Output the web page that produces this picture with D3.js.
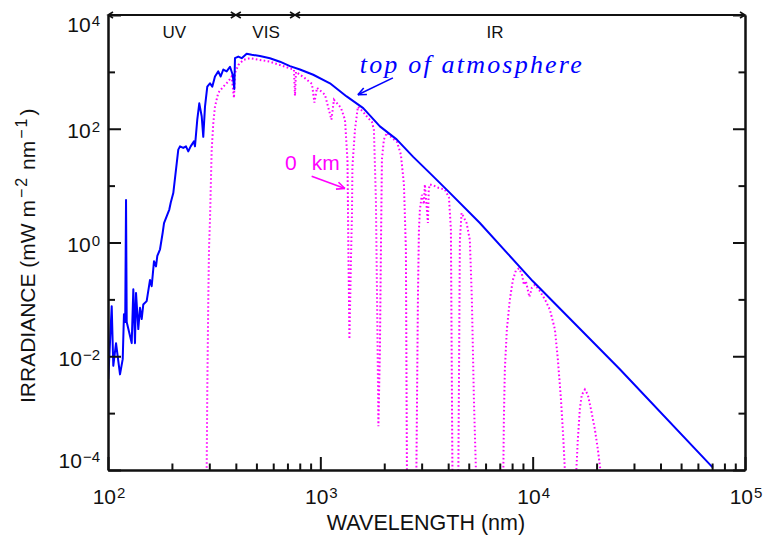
<!DOCTYPE html>
<html><head><meta charset="utf-8">
<script src="https://cdn.jsdelivr.net/npm/d3@7"></script>
<style>
html,body{margin:0;padding:0;background:#fff;}
svg{display:block;font-family:"Liberation Sans",Arial,Helvetica,sans-serif;}
</style></head><body>
<svg id="chart" width="767" height="538"></svg>
<script>
// ---- data (wavelength in nm, irradiance in mW m-2 nm-1) ----
const toaWavelength = [100.3,104.1,105.9,109.1,113.9,117.3,118.9,120.5,121.6,122.5,126.9,129.3,131.6,134.0,135.5,138.9,141.5,144.1,146.6,152.1,157.7,160.6,164.7,168.3,170.7,175.8,181.0,183.6,189.1,194.4,197.4,203.0,214.3,218.3,226.2,232.9,238.8,245.1,254.0,256.8,263.3,269.1,276.2,281.0,286.3,293.5,302.2,309.8,319.0,330.6,339.4,349.1,362.2,375.4,386.5,393.4,396.3,410.8,426.2,449.8,474.9,519.5,579.0,645.3,719.3,801.7,926,1110,1330,1592,1908,2287,2738,3281,3933,5641,10000,25740,70550];
const toaIrradiance = [0.0040,0.076,0.0068,0.017,0.0048,0.0089,0.055,0.040,5.6,0.040,0.023,0.017,0.15,0.017,0.13,0.030,0.071,0.045,0.081,0.093,0.22,0.17,0.47,0.38,0.58,0.76,1.5,2.2,2.9,3.8,5.0,7.4,43,49,46,49,40,49,60,49,145,280,166,72,245,550,630,550,830,1020,830,1100,1020,1230,890,500,1740,1860,1740,2090,2000,1900,1740,1510,1260,1100,890,630,370,230,110,65,32,16.6,8.5,2.2,0.21,0.0059,0.00011];

const surfaceWavelength = [285,291.6,293.5,296.7,299,302.2,303.8,307.8,313.2,319,330.6,349.1,368.6,382.3,392,396.3,410.8,433.5,466.1,519.5,579,645.3,719.3,751,759.5,767.6,846,913,938,964,1051,1128,1159,1250,1306,1342,1356,1371,1394,1409,1416,1455,1503,1588,1675,1750,1788,1827,1857,1877,1908,1929,1950,1993,2059,2174,2295,2396,2475,2529,2557,2641,2834,2881,2913,2944,3008,3074,3108,3150,3211,3240,3281,3425,3618,3861,4033,4120,4188,4302,4469,4543,4627,4744,4884,5061,5172,5286,5404,6281,7278,7318,7397,7560,7810,8070,8334,8610,8897,9092,9290,9650,9913,10240,10810,11420,12050,12720,13140,13580,13950,14180,14970,16060,16320,16680,17040,17620,18190,18790,19630,20280,20840,23000];
const surfaceIrradiance = [1e-6,1e-4,0.0026,0.1,0.76,2.5,5.6,43,126,245,427,550,676,830,347,955,1320,1620,1740,1620,1510,1320,1150,1100,380,1000,776,617,288,525,398,145,324,234,145,29,0.76,0.020,0.5,3.1,21,95,245,200,155,132,95,5.6,0.030,0.00059,0.013,0.76,29,65,85,69,59,35,10.5,0.76,0.000105,1e-6,1e-4,0.1,1.7,3.8,6.9,4.7,10.5,5.6,2.2,8.5,10.5,10,9.1,8.5,6.2,1.7,1e-4,1e-6,1e-4,1.1,3.3,2.75,2.2,1.1,0.1,0.0018,1e-4,1e-6,1e-4,0.00078,0.0059,0.030,0.1,0.22,0.32,0.35,0.28,0.18,0.21,0.11,0.16,0.18,0.14,0.1,0.066,0.030,0.0089,0.0018,0.00035,1e-4,1e-6,1e-4,0.00035,0.0012,0.0021,0.0026,0.0021,0.0012,0.00052,0.00023,1e-4,1e-6];

const seriesNames = ["top of atmosphere", "0 km"];
const xTickExponents = [2, 3, 4, 5];
const yTickExponents = [-4, -2, 0, 2, 4];
const yMinorExponents = [-3, -1, 1, 3];
const regionNames = ["UV", "VIS", "IR"];
const regionEdges = [100, 400, 760, 100000];
const regionLabelWavelength = [205, 555, 6640];
// annotation anchors in data space [wavelength, irradiance]
const toaLabelAt = [1533, 960];
const toaArrowFrom = [2197, 785], toaArrowTo = [1503, 395];
const surfLabelAt = [[681, 19.1], [910, 19.1]];
const surfArrowFrom = [910, 14.6], surfArrowTo = [1306, 8.9];

// ---- chart ----
const svg = d3.select("#chart");
const x = d3.scaleLog().domain([1e2, 1e5]).range([108, 745]);
const y = d3.scaleLog().domain([1e-4, 1e4]).range([470, 15]);
const ink = "#111";
const blue = "#0000ff", magenta = "#ff00ff";

svg.append("clipPath").attr("id", "plotClip").append("rect")
  .attr("x", x.range()[0]).attr("y", y.range()[1])
  .attr("width", x.range()[1] - x.range()[0]).attr("height", y.range()[0] - y.range()[1]);

const line = d3.line().x(d => x(d[0])).y(d => y(d[1]));
const surf = surfaceWavelength.map((w, i) => [w, surfaceIrradiance[i]]);
const toa = toaWavelength.map((w, i) => [w, toaIrradiance[i]]);

const plot = svg.append("g").attr("clip-path", "url(#plotClip)");
plot.append("path").datum(surf).attr("d", line)
  .attr("fill", "none").attr("stroke", magenta).attr("stroke-width", 2)
  .attr("stroke-dasharray", "1.6 2.4");
plot.append("path").datum(toa).attr("d", line)
  .attr("fill", "none").attr("stroke", blue).attr("stroke-width", 2)
  .attr("stroke-linejoin", "round");

// axes
function styleAxis(g) {
  g.select(".domain").attr("stroke", ink).attr("stroke-width", 2);
  g.selectAll(".tick line").attr("stroke", ink).attr("stroke-width", 2);
  g.selectAll(".tick text").remove();
}
const xMajor = xTickExponents.map(e => Math.pow(10, e));
const xMinor = [];
for (let e = 2; e < 5; e++) for (let m = 2; m <= 9; m++) xMinor.push(m * Math.pow(10, e));
const yMajor = yTickExponents.map(e => Math.pow(10, e));
const yMinor = yMinorExponents.map(e => Math.pow(10, e));

svg.append("g").attr("transform", `translate(0,${y.range()[0]})`)
  .call(d3.axisBottom(x).tickValues(xMinor).tickSize(-6.5).tickSizeOuter(0).tickFormat(() => "")).call(styleAxis);
svg.append("g").attr("transform", `translate(0,${y.range()[0]})`)
  .call(d3.axisBottom(x).tickValues(xMajor).tickSize(-13).tickSizeOuter(0).tickFormat(() => "")).call(styleAxis);
svg.append("g").attr("transform", `translate(${x.range()[0]},0)`)
  .call(d3.axisLeft(y).tickValues(yMinor).tickSize(-7).tickSizeOuter(0).tickFormat(() => "")).call(styleAxis);
svg.append("g").attr("transform", `translate(${x.range()[0]},0)`)
  .call(d3.axisLeft(y).tickValues(yMajor).tickSize(-13).tickSizeOuter(0).tickFormat(() => "")).call(styleAxis);
svg.append("g").attr("transform", `translate(${x.range()[1]},0)`)
  .call(d3.axisRight(y).tickValues(yMinor).tickSize(-6.5).tickSizeOuter(0).tickFormat(() => "")).call(styleAxis);
svg.append("g").attr("transform", `translate(${x.range()[1]},0)`)
  .call(d3.axisRight(y).tickValues(yMajor).tickSize(-12).tickSizeOuter(0).tickFormat(() => "")).call(styleAxis);

// tick labels
const supText = e => (e < 0 ? "\u2212" + (-e) : String(e));
yTickExponents.forEach(e => {
  const yy = y(Math.pow(10, e));
  const base = Math.min(Math.max(yy + 9.5, 31.5), 468);
  const t = svg.append("text").attr("x", 100).attr("y", base)
    .attr("text-anchor", "end").attr("font-size", 21).attr("fill", ink);
  t.append("tspan").text("10");
  t.append("tspan").attr("font-size", 15).attr("dy", -6).attr("dx", 1).text(supText(e));
});
xTickExponents.forEach(e => {
  const t = svg.append("text").attr("x", x(Math.pow(10, e)) + 1).attr("y", 504)
    .attr("text-anchor", "middle").attr("font-size", 21).attr("fill", ink);
  t.append("tspan").text("10");
  t.append("tspan").attr("font-size", 15).attr("dy", -6).attr("dx", 1).text(supText(e));
});

// axis titles
svg.append("text").attr("x", 426).attr("y", 530).attr("text-anchor", "middle")
  .attr("font-size", 21.5).attr("fill", ink).text("WAVELENGTH (nm)");
const yt = svg.append("text").attr("transform", "translate(35,403) rotate(-90)")
  .attr("font-size", 21).attr("fill", ink);
yt.append("tspan").text("IRRADIANCE (mW m");
yt.append("tspan").attr("font-size", 16).attr("dy", -8).attr("dx", 2).attr("letter-spacing", 2).text("\u22122");
yt.append("tspan").attr("dy", 8).attr("dx", 0).text(" nm");
yt.append("tspan").attr("font-size", 16).attr("dy", -8).attr("dx", 2).attr("letter-spacing", 2).text("\u22121");
yt.append("tspan").attr("dy", 8).attr("dx", 1).text(")");

// top region arrows
const topY = y.range()[1];
svg.append("line").attr("x1", x(regionEdges[0])).attr("x2", x(regionEdges[regionEdges.length - 1]))
  .attr("y1", topY).attr("y2", topY).attr("stroke", ink).attr("stroke-width", 2);
function chevron(xTip, dir) {
  const L = 5, H = 3;
  svg.append("path").attr("d", `M${xTip - dir * L},${topY - H}L${xTip},${topY}L${xTip - dir * L},${topY + H}`)
    .attr("fill", "none").attr("stroke", ink).attr("stroke-width", 1.6);
}
regionEdges.forEach((w, i) => {
  const xx = x(w);
  if (i > 0) chevron(xx, 1);
  if (i < regionEdges.length - 1) chevron(xx, -1);
});
regionNames.forEach((n, i) => {
  svg.append("text").attr("x", x(regionLabelWavelength[i])).attr("y", 38)
    .attr("text-anchor", "middle").attr("font-size", 17).attr("fill", ink).text(n);
});

// annotations
function arrow(from, to, color) {
  const x1 = x(from[0]), y1 = y(from[1]), x2 = x(to[0]), y2 = y(to[1]);
  svg.append("line").attr("x1", x1).attr("y1", y1).attr("x2", x2).attr("y2", y2)
    .attr("stroke", color).attr("stroke-width", 1.6);
  const ang = Math.atan2(y2 - y1, x2 - x1), L = 9, a = 0.42;
  [-1, 1].forEach(s => {
    svg.append("line").attr("x1", x2).attr("y1", y2)
      .attr("x2", x2 - L * Math.cos(ang + s * a)).attr("y2", y2 - L * Math.sin(ang + s * a))
      .attr("stroke", color).attr("stroke-width", 1.6);
  });
}
svg.append("text").attr("x", x(toaLabelAt[0])).attr("y", y(toaLabelAt[1]))
  .attr("font-family", "'Liberation Serif','DejaVu Serif',serif").attr("font-style", "italic")
  .attr("font-size", 26).attr("fill", blue).attr("textLength", 222).attr("lengthAdjust", "spacing")
  .text(seriesNames[0]);
arrow(toaArrowFrom, toaArrowTo, blue);

const parts = seriesNames[1].split(" ");
const sk = svg.append("text").attr("font-size", 21).attr("fill", magenta);
sk.append("tspan").attr("x", x(surfLabelAt[0][0])).attr("y", y(surfLabelAt[0][1])).text(parts[0]);
sk.append("tspan").attr("x", x(surfLabelAt[1][0])).attr("y", y(surfLabelAt[1][1])).text(parts[1]);
arrow(surfArrowFrom, surfArrowTo, magenta);
</script>
</body></html>
